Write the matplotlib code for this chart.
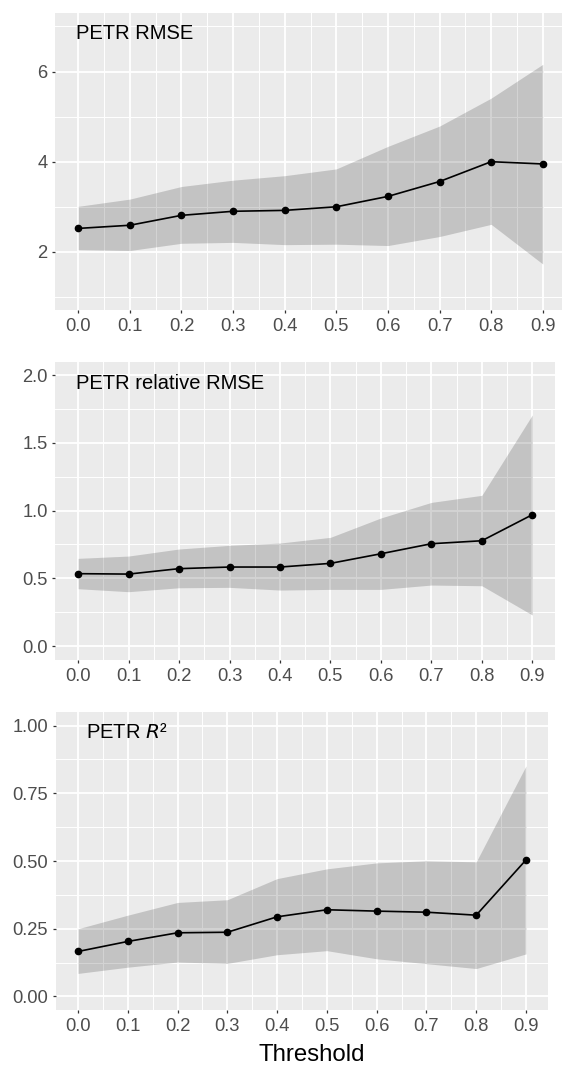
import numpy as np
import matplotlib
matplotlib.use("Agg")
import matplotlib.pyplot as plt
from matplotlib.ticker import MultipleLocator

plt.rcParams['font.family'] = ['Liberation Sans', 'DejaVu Sans']

threshold = [0.0, 0.1, 0.2, 0.3, 0.4, 0.5, 0.6, 0.7, 0.8, 0.9]

# PETR RMSE
rmse_mean = [2.52, 2.59, 2.81, 2.90, 2.92, 3.00, 3.23, 3.56, 4.00, 3.95]
rmse_hi = [3.01, 3.17, 3.45, 3.59, 3.69, 3.84, 4.34, 4.79, 5.41, 6.16]
rmse_lo = [2.05, 2.03, 2.19, 2.21, 2.16, 2.17, 2.14, 2.34, 2.61, 1.73]

# PETR relative RMSE
rel_mean = [0.534, 0.531, 0.571, 0.583, 0.583, 0.610, 0.681, 0.755, 0.777, 0.969]
rel_hi = [0.647, 0.664, 0.716, 0.743, 0.760, 0.802, 0.945, 1.060, 1.112, 1.705]
rel_lo = [0.423, 0.401, 0.430, 0.433, 0.413, 0.418, 0.418, 0.450, 0.445, 0.229]

# PETR R2
r2_mean = [0.166, 0.203, 0.235, 0.237, 0.294, 0.320, 0.315, 0.311, 0.300, 0.504]
r2_hi = [0.250, 0.300, 0.347, 0.357, 0.435, 0.471, 0.493, 0.501, 0.497, 0.851]
r2_lo = [0.085, 0.108, 0.127, 0.122, 0.154, 0.169, 0.139, 0.121, 0.103, 0.157]

W, H = 562, 1067
fig = plt.figure(figsize=(W / 100, H / 100), dpi=100)


def panel(box, lo, mean, hi, ylim, major, minor, fmt, title, tx, ty):
    l, t, r, b = box
    ax = fig.add_axes([l / W, 1 - b / H, (r - l) / W, (b - t) / H])
    ax.set_facecolor('#EBEBEB')
    for s in ax.spines.values():
        s.set_visible(False)
    ax.set_xlim(-0.045, 0.945)
    ax.set_ylim(*ylim)
    ax.xaxis.set_major_locator(MultipleLocator(0.1))
    ax.xaxis.set_minor_locator(MultipleLocator(0.05))
    ax.yaxis.set_major_locator(MultipleLocator(major))
    ax.yaxis.set_minor_locator(MultipleLocator(minor))
    ax.grid(which='major', color='white', lw=1.3)
    ax.grid(which='minor', color='white', lw=0.7)
    ax.set_axisbelow(True)
    ax.tick_params(which='major', length=2.5, width=0.9, color='#333333',
                   labelsize=13.2, labelcolor='#4D4D4D', pad=3)
    ax.tick_params(which='minor', length=0)
    ax.set_xticks(threshold)
    ax.set_xticklabels(['%.1f' % v for v in threshold])
    ax.yaxis.set_major_formatter(plt.FuncFormatter(lambda v, p: fmt % v))
    ax.fill_between(threshold, lo, hi, color='black', alpha=0.17, lw=0)
    ax.plot(threshold, mean, color='black', lw=1.2, marker='o', ms=4.5)
    ax.text(tx, ty, title, fontsize=14.5, color='black', ha='left', va='baseline')
    return ax


ax1 = panel((55, 12.5, 566, 310), rmse_lo, rmse_mean, rmse_hi, (0.71, 7.31),
            2, 1, '%d', 'PETR RMSE', -0.004, 6.72)
ax2 = panel((55.4, 362, 555, 660), rel_lo, rel_mean, rel_hi, (-0.103, 2.096),
            0.5, 0.25, '%.1f', 'PETR relative RMSE', -0.004, 1.897)
ax3 = panel((55.6, 712, 548.4, 1010), r2_lo, r2_mean, r2_hi, (-0.05, 1.05),
            0.25, 0.125, '%.2f', 'PETR $\\mathit{R}$²', 0.016, 0.955)

fig.text(312 / W, 1 - 1061 / H, 'Threshold', fontsize=17.3, ha='center',
         va='baseline', color='black')

fig.savefig('out.png', dpi=100)
